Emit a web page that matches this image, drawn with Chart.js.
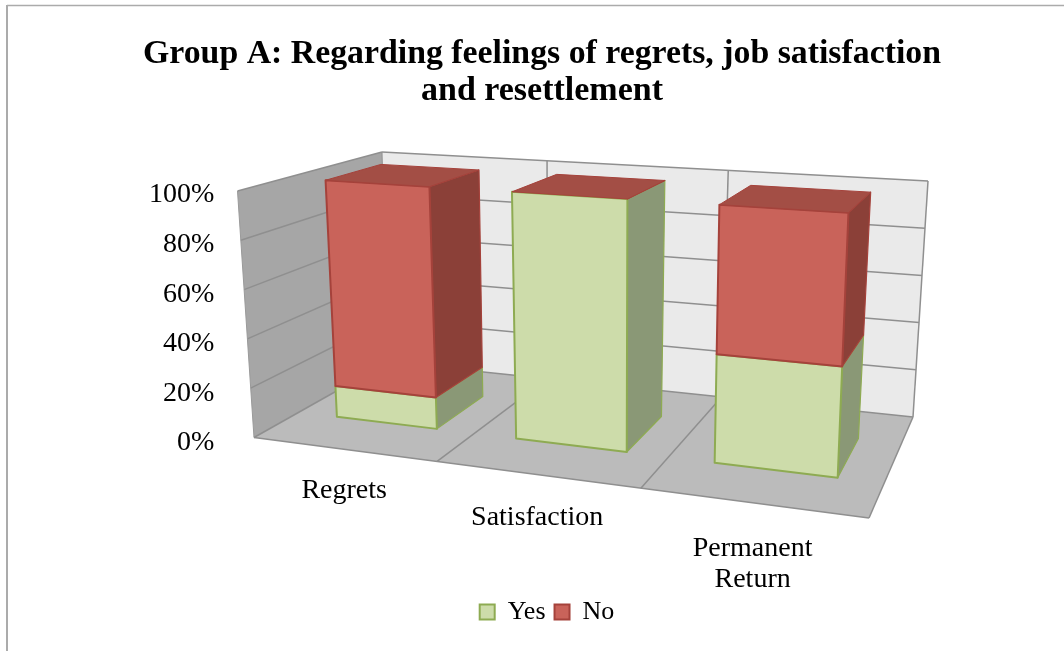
<!DOCTYPE html>
<html>
<head>
<meta charset="utf-8">
<style>html,body{margin:0;padding:0;background:#fff}#w{width:1064px;height:651px}</style>
<script src="https://cdn.jsdelivr.net/npm/chart.js@4/dist/chart.umd.min.js"></script>
</head>
<body>
<div id="w"><canvas id="c" width="1064" height="651"></canvas></div>
<script>
const categories = ["Regrets", "Satisfaction", ["Permanent", "Return"]];
const yesValues = [13, 100, 42];
const noValues = [87, 0, 58];
const yTicks = [0, 20, 40, 60, 80, 100];

const FONT = '"Liberation Serif", serif';
const floorQuad = [[254,437.5],[869,518],[913,417],[388,362]];
const topQuad = [[237.5,191],[881,234],[928,181],[382,152]];
const Z0 = 0.30, Z1 = 0.70;
const BAR_SHIFT_U = 0.003;

function homography(q){
  const [A,B,C,D]=q;
  const d1=[B[0]-C[0],B[1]-C[1]], d2=[D[0]-C[0],D[1]-C[1]];
  const s=[A[0]-B[0]+C[0]-D[0],A[1]-B[1]+C[1]-D[1]];
  const det=d1[0]*d2[1]-d2[0]*d1[1];
  const g=(s[0]*d2[1]-d2[0]*s[1])/det, h=(d1[0]*s[1]-s[0]*d1[1])/det;
  return (u,z)=>{
    const w=1+g*u+h*z;
    return [0,1].map(i=>(A[i]+u*(B[i]-A[i]+g*B[i])+z*(D[i]-A[i]+h*D[i]))/w);
  };
}
const floorH=homography(floorQuad), topH=homography(topQuad);
function P(u,v,z){
  const a=floorH(u,z), b=topH(u,z);
  return [a[0]+(b[0]-a[0])*v, a[1]+(b[1]-a[1])*v];
}
function poly(ctx,pts,fill,stroke,lw){
  ctx.beginPath();
  pts.forEach((p,i)=>i?ctx.lineTo(p[0],p[1]):ctx.moveTo(p[0],p[1]));
  ctx.closePath();
  if(fill){ctx.fillStyle=fill;ctx.fill();}
  if(stroke){ctx.strokeStyle=stroke;ctx.lineWidth=lw||1.5;ctx.lineJoin='round';ctx.stroke();}
}
function line(ctx,a,b,col,lw){
  ctx.beginPath();ctx.moveTo(a[0],a[1]);ctx.lineTo(b[0],b[1]);
  ctx.strokeStyle=col;ctx.lineWidth=lw||1.5;ctx.stroke();
}
const faceStyles=[
  {front:'#CDDCAA',side:'#8A9876',top:'#A3B584',edge:'#8EAB52'},
  {front:'#C9635A',side:'#8B4038',top:'#A34E45',edge:'#A5423B'}
];
const scene3d={
  id:'scene3d',
  afterLayout(chart){
    const l=chart.legend;
    const dy=147, dx=5;
    l.top+=dy;l.bottom+=dy;l.left+=dx;l.right+=dx;
  },
  beforeDraw(chart){
    const ctx=chart.ctx;
    ctx.save();
    ctx.fillStyle='#fff';ctx.fillRect(0,0,chart.width,chart.height);
    line(ctx,[7,5.5],[1064,5.5],'#ABABAB',1.5);
    line(ctx,[7,5],[7,651],'#ABABAB',2);
    ctx.restore();
  },
  beforeDatasetsDraw(chart){
    const ctx=chart.ctx, xS=chart.scales.x, yS=chart.scales.y;
    const grid='#8F8F8F';
    ctx.save();
    poly(ctx,[P(0,0,0),P(0,1,0),P(0,1,1),P(0,0,1)],'#A6A6A6');
    poly(ctx,[P(0,0,1),P(0,1,1),P(1,1,1),P(1,0,1)],'#EAEAEA');
    poly(ctx,[P(0,0,0),P(1,0,0),P(1,0,1),P(0,0,1)],'#BBBBBB');
    yS.ticks.forEach(t=>{
      const v=(t.value-yS.min)/(yS.max-yS.min);
      line(ctx,P(0,v,0),P(0,v,1),grid,1.5);
      line(ctx,P(0,v,1),P(1,v,1),grid,1.5);
    });
    line(ctx,P(0,0,0),P(0,1,0),'#9A9A9A',1);
    line(ctx,P(0,0,1),P(0,1,1),grid,1);
    line(ctx,P(1,0,1),P(1,1,1),grid,1.5);
    const n=categories.length;
    for(let i=1;i<n;i++){
      const u=i/n;
      line(ctx,P(u,0,0),P(u,0,1),grid,1.5);
      line(ctx,P(u,0,1),P(u,1,1),grid,1.5);
    }
    line(ctx,P(0,0,0),P(1,0,0),grid,1.5);
    line(ctx,P(1,0,0),P(1,0,1),grid,1.5);
    const L=xS.left,W=xS.right-xS.left,B=yS.bottom,H=yS.bottom-yS.top;
    const metas=chart.getSortedVisibleDatasetMetas();
    for(let i=0;i<n;i++){
      metas.forEach((m,k)=>{
        const e=m.data[i], s=faceStyles[k];
        const u0=(e.x-e.width/2-L)/W+BAR_SHIFT_U, u1=(e.x+e.width/2-L)/W+BAR_SHIFT_U;
        const v0=(B-e.base)/H, v1=(B-e.y)/H;
        poly(ctx,[P(u1,v0,Z0),P(u1,v1,Z0),P(u1,v1,Z1),P(u1,v0,Z1)],s.side,s.edge,1.2);
        if(v1>v0) poly(ctx,[P(u0,v0,Z0),P(u1,v0,Z0),P(u1,v1,Z0),P(u0,v1,Z0)],s.front,s.edge,2);
      });
      const last=metas[metas.length-1].data[i], s=faceStyles[metas.length-1];
      const u0=(last.x-last.width/2-L)/W+BAR_SHIFT_U, u1=(last.x+last.width/2-L)/W+BAR_SHIFT_U, v=(B-last.y)/H;
      poly(ctx,[P(u0,v,Z0),P(u1,v,Z0),P(u1,v,Z1),P(u0,v,Z1)],s.top,s.edge,1);
    }
    ctx.fillStyle='#000';ctx.font='28px '+FONT;ctx.textAlign='center';ctx.textBaseline='middle';
    categories.forEach((c,i)=>{
      const p=P((i+0.5)/n,0,0);
      (Array.isArray(c)?c:[c]).forEach((t,j)=>ctx.fillText(t,p[0]+1,p[1]+41+2.5*i+j*31));
    });
    ctx.restore();
    return false;
  }
};
new Chart(document.getElementById('c'),{
  type:'bar',
  data:{labels:categories,datasets:[
    {label:'Yes',data:yesValues,backgroundColor:'#CDDCAA',borderColor:'#8EAB52',borderWidth:2},
    {label:'No',data:noValues,backgroundColor:'#C9635A',borderColor:'#A5423B',borderWidth:2}
  ]},
  plugins:[scene3d],
  options:{
    responsive:false,animation:false,
    layout:{padding:{left:143,right:123,top:0,bottom:163}},
    datasets:{bar:{barPercentage:0.57,categoryPercentage:1}},
    scales:{
      x:{stacked:true,display:false},
      y:{stacked:true,min:0,max:100,
        afterBuildTicks(a){a.ticks=yTicks.map(v=>({value:v}));},
        grid:{display:false},border:{display:false},
        ticks:{color:'#000',font:{family:FONT,size:28},padding:6,callback:v=>v+'%'}}
    },
    plugins:{
      title:{display:true,text:['Group A: Regarding feelings of regrets, job satisfaction','and resettlement'],
        color:'#000',font:{family:FONT,size:34,weight:'bold',lineHeight:1.09},padding:{top:36,bottom:85}},
      legend:{position:'bottom',labels:{color:'#000',font:{family:FONT,size:26},boxWidth:15,boxHeight:15,padding:9}},
      tooltip:{enabled:false}
    }
  }
});
</script>
</body>
</html>
